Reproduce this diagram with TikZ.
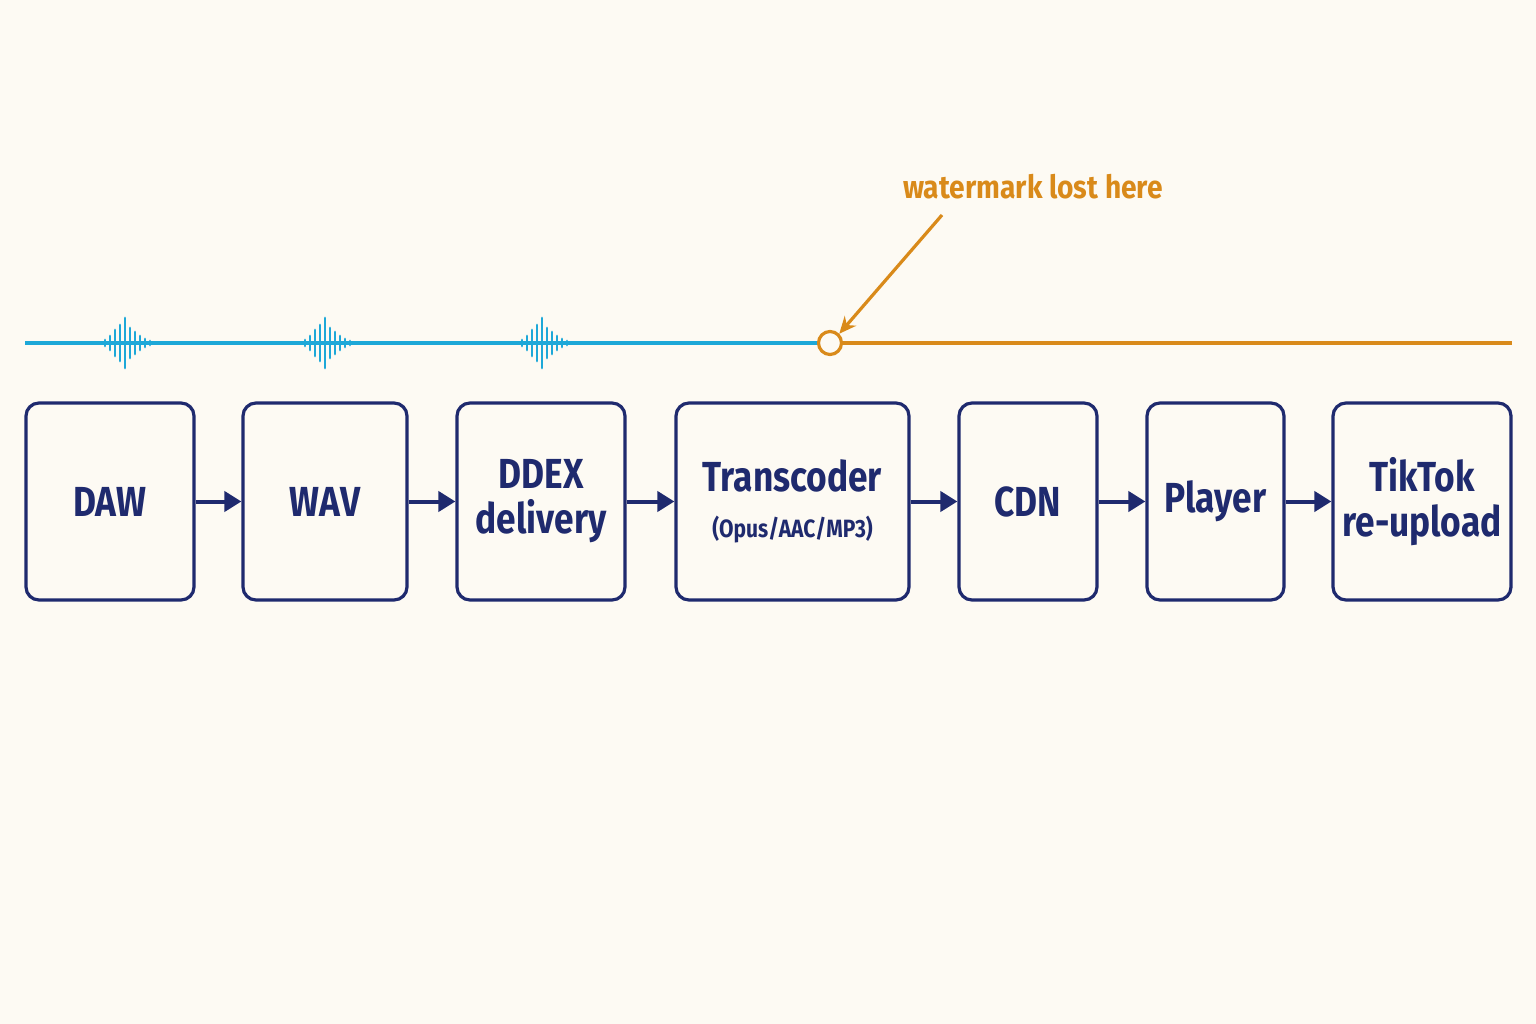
\documentclass[tikz,border=0pt]{standalone}
\usepackage{fontspec}
\usepackage{graphicx}
\setmainfont{Fira Sans}
\usetikzlibrary{arrows.meta}
\definecolor{navy}{HTML}{1F2A6E}
\definecolor{wblue}{HTML}{1DA8D8}
\definecolor{worange}{HTML}{D98A1A}
\definecolor{bg}{HTML}{FDFAF3}
\newcommand{\subtxt}{\fontsize{25}{28}\selectfont}
\newcommand{\cnd}[1]{\scalebox{0.84}[1]{#1}}
\begin{document}
\begin{tikzpicture}[x=1pt,y=-1pt,
 box/.style={draw=navy,line width=3.2pt,rounded corners=13pt,align=center,text=navy,inner sep=0pt,font=\fontsize{42}{44}\selectfont\bfseries},
 conn/.style={navy,line width=4pt,-{Triangle[length=17pt,width=20pt]}}]
\fill[bg] (0,0) rectangle (1536,1024);
\useasboundingbox (0,0) rectangle (1536,1024);
\newcommand{\bx}[4]{\node[box,minimum width=#3-#2 pt,minimum height=197pt] (#1) at ({(#2+#3)/2},501.5) {#4};}
\bx{daw}{26}{194}{\cnd{DAW}}
\bx{wav}{243}{407}{\cnd{WAV}}
\bx{ddex}{457}{625}{\cnd{DDEX}\\[1pt]\cnd{delivery}}
\bx{tr}{676}{909}{\cnd{Transcoder}\\[2pt]{\subtxt\cnd{(Opus/AAC/MP3)}}}
\bx{cdn}{959}{1097}{\cnd{CDN}}
\bx{pl}{1147}{1284}{\cnd{Player}}
\bx{tt}{1333}{1511}{\cnd{TikTok}\\[1pt]\cnd{re-upload}}
\foreach \a/\b in {daw/wav,wav/ddex,ddex/tr,tr/cdn,cdn/pl,pl/tt}
  \draw[conn] (\a.east) -- (\b.west);
\coordinate (l0) at (25,343);
\coordinate (l1) at (1512,343);
\node[circle,draw=worange,line width=3.2pt,minimum size=23pt,inner sep=0pt] (lost) at (830,343) {};
\draw[wblue,line width=3.2pt] (l0) -- (lost.west);
\draw[worange,line width=3.2pt] (lost.east) -- (l1);
\foreach \cx in {125,325,542}{
  \foreach \dx/\h in {-20/6,-15/14,-10/26,-5/36,0/50,5/30,10/22,15/14,20/8,25/4}
    \draw[wblue,line width=2.8pt,line cap=round] (\cx+\dx,343-\h/2) -- (\cx+\dx,343+\h/2);
}
\node[text=worange,font=\fontsize{32}{34}\selectfont\bfseries] (lbl) at (1033,187) {\scalebox{0.88}[1]{watermark lost here}};
\coordinate (as) at (942,215);
\draw[worange,line width=3.2pt,-{Stealth[length=17pt,width=15pt]}] (as) -- (lost.north east);
\end{tikzpicture}
\end{document}
